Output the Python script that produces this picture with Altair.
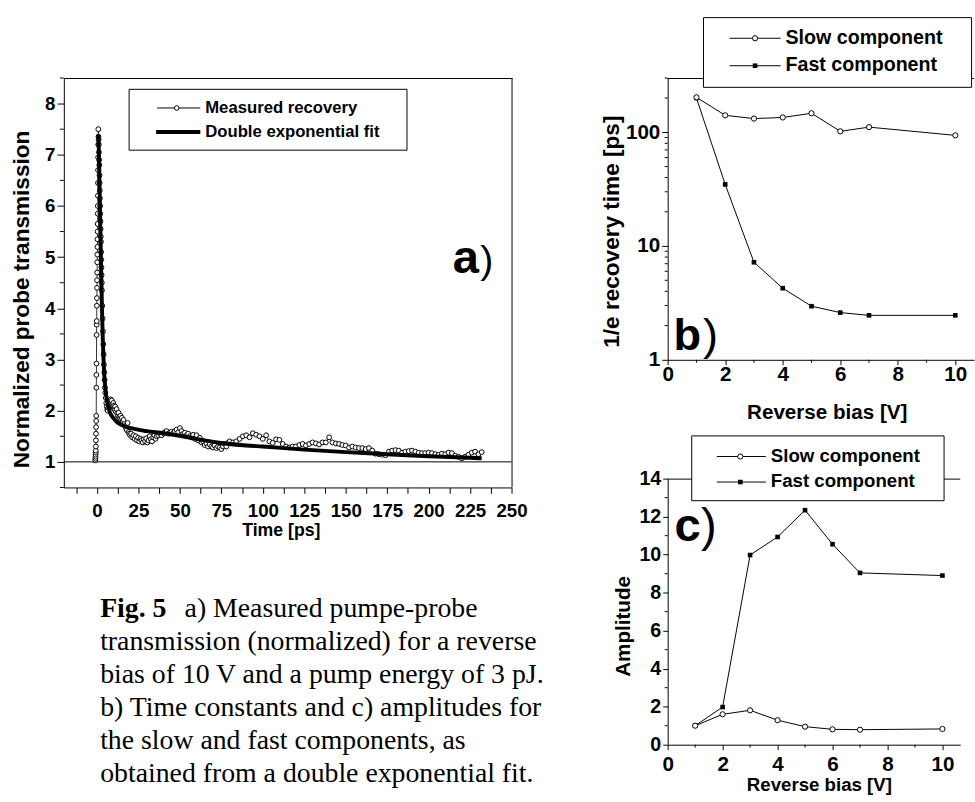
import altair as alt
import pandas as pd

SANS = "Liberation Sans"
SERIF = "Liberation Serif"

# ---------------- panel a: measured recovery (time in ps, normalized transmission)
time_ps = [
    -1.0, -0.95, -0.9, -0.85, -0.8, -0.75, -0.7, -0.65, -0.6, -0.55, -0.5, -0.45, -0.4,
    -0.35, -0.3, -0.25, -0.2, -0.15, -0.1, -0.05, 0.0, 0.05, 0.1, 0.15, 0.2, 0.25, 0.3,
    0.35, 0.4, 0.45, 0.5, 0.55, 0.6, 0.65, 0.7, 0.75, 0.8,
    0.9, 1.0, 1.1, 1.2, 1.3, 1.4, 1.5, 1.6, 1.7, 1.8, 1.9, 2.0, 2.1, 2.2, 2.3, 2.4, 2.5,
    2.6, 2.7, 2.8, 2.9, 3.0,
    3.2, 3.4, 3.6, 3.8, 4.0, 4.2, 4.4, 4.6, 4.8, 5.0,
    5.3, 5.6, 5.9, 6.2, 6.5, 6.8, 7.1, 7.4, 7.7, 8.0, 8.3, 8.6, 8.9, 9.2, 9.5, 9.8, 10.1,
    10.4, 10.7, 11.0,
    11.4, 11.8, 12.2, 12.6, 13.0, 13.4, 13.8, 14.2, 14.6, 15.0,
    15.5, 16.0, 16.5, 17.0, 17.5, 18.0, 18.5, 19.0, 19.5, 20.0,
    20.6, 21.3, 22.0, 22.7, 23.4, 24.1, 24.8, 25.5, 26.2, 26.9, 27.6, 28.3, 29.0, 29.7,
    30.4, 31.1, 31.8, 32.5, 33.2, 33.9, 34.6, 35.3, 36.0,
    37, 38, 39, 40, 41, 42, 43, 44, 45, 46, 47, 48, 49, 50, 51, 52, 53, 54, 55, 56, 57, 58,
    59, 60, 61, 62, 63, 64, 65, 66, 67, 68, 69, 70, 71, 72, 73, 74, 75, 76, 77, 78, 79, 80,
    82, 84, 86, 88, 90, 92, 94, 96, 98, 100, 102, 104, 106, 108, 110, 112, 114, 116, 118,
    120, 122, 124, 126, 128, 130, 132, 134, 136, 138, 140, 142, 144, 146, 148, 150, 152,
    154, 156, 158, 160, 162, 164, 166, 168, 170, 172, 174, 176, 178, 180, 182, 184, 186,
    188, 190, 192, 194, 196, 198, 200, 202, 204, 206, 208, 210, 212, 214, 216, 218, 220,
    222, 224, 226, 228, 230, 232,
]
transmission = [
    1.03, 1.06, 1.10, 1.14, 1.18, 1.22, 1.30, 1.42, 1.55, 1.68, 1.80, 1.90, 2.45,
    2.70, 2.92, 3.48, 3.68, 3.75, 4.05, 4.20, 4.40, 4.55, 4.70, 4.90, 5.05, 5.20, 5.35,
    5.50, 5.65, 5.85, 6.00, 6.20, 6.45, 6.70, 6.95, 7.20, 7.50,
    7.35, 7.30, 7.20, 7.05, 6.90, 6.80, 6.60, 6.45, 6.30, 6.15, 6.00, 5.85, 5.70, 5.55,
    5.40, 5.30, 5.10, 4.95, 4.80, 4.65, 4.50, 4.35,
    4.05, 3.80, 3.55, 3.30, 3.10, 2.90, 2.75, 2.60, 2.45, 2.35,
    2.25, 2.15, 2.08, 2.02, 2.00, 2.06, 2.10, 2.15, 2.20, 2.18, 2.22, 2.15, 2.20, 2.12,
    2.08, 2.15, 2.05, 2.10, 2.02, 2.08,
    1.98, 2.03, 1.95, 1.90, 1.96, 1.88, 1.85, 1.90, 1.82, 1.86,
    1.78, 1.82, 1.74, 1.70, 1.66, 1.62, 1.76, 1.58, 1.55, 1.52,
    1.55, 1.48, 1.52, 1.45, 1.50, 1.42, 1.47, 1.40, 1.45, 1.42, 1.38, 1.44, 1.40, 1.46,
    1.38, 1.42, 1.50, 1.44, 1.40, 1.48, 1.52, 1.45, 1.50,
    1.52, 1.55, 1.52, 1.56, 1.58, 1.60, 1.55, 1.57, 1.59, 1.56, 1.60, 1.63, 1.58, 1.66,
    1.60, 1.55, 1.57, 1.52, 1.55, 1.50, 1.48, 1.53, 1.45, 1.52, 1.42, 1.47, 1.38, 1.40,
    1.33, 1.36, 1.30, 1.34, 1.30, 1.28, 1.32, 1.27, 1.30, 1.28, 1.25, 1.30, 1.35, 1.30,
    1.37, 1.40,
    1.38, 1.40, 1.45, 1.50, 1.52, 1.48, 1.56, 1.53, 1.50, 1.45, 1.52, 1.40, 1.37, 1.44,
    1.43, 1.35, 1.30, 1.28, 1.30, 1.30, 1.33, 1.35, 1.32, 1.35, 1.38, 1.36, 1.34, 1.38,
    1.38, 1.48, 1.38, 1.36, 1.35, 1.33, 1.32, 1.28, 1.30, 1.28, 1.27, 1.27, 1.25, 1.27,
    1.22, 1.16, 1.15, 1.14, 1.13, 1.20, 1.22, 1.23, 1.22, 1.18, 1.20, 1.21, 1.22, 1.20,
    1.18, 1.17, 1.17, 1.18, 1.17, 1.15, 1.14, 1.16, 1.15, 1.18, 1.17, 1.12, 1.10, 1.07,
    1.10, 1.14, 1.18, 1.20, 1.15, 1.19,
]
fit_time_ps = [0.8, 1.2, 1.6, 2.0, 2.5, 3.0, 3.5, 4.0, 4.5, 5.0, 6.0, 7.0, 8.0, 10, 12,
               15, 18, 22, 26, 30, 40, 50, 60, 75, 90, 100, 125, 150, 175, 200, 225, 232]
fit_transmission = [7.4, 7.0, 6.3, 5.6, 4.8, 4.0, 3.4, 2.95, 2.65, 2.45, 2.2, 2.05, 1.95,
                    1.85, 1.78, 1.72, 1.68, 1.65, 1.62, 1.6, 1.56, 1.51, 1.45, 1.37, 1.32,
                    1.3, 1.24, 1.19, 1.15, 1.11, 1.08, 1.07]
baseline_level = [1.0]

# ---------------- panels b and c
bias_v = [1, 2, 3, 4, 5, 6, 7, 10]
tau_slow_ps = [203, 141, 132, 135, 147, 102, 111, 94]
tau_fast_ps = [200, 34.8, 7.2, 4.26, 2.96, 2.6, 2.46, 2.46]
amp_slow = [1.0, 1.6, 1.81, 1.29, 0.95, 0.81, 0.79, 0.83]
amp_fast = [1.0, 1.98, 9.98, 10.93, 12.34, 10.55, 9.04, 8.9]

# ---------------- tick values
a_x_ticks = [-12.5, 0, 12.5, 25, 37.5, 50, 62.5, 75, 87.5, 100, 112.5, 125, 137.5, 150,
             162.5, 175, 187.5, 200, 212.5, 225, 237.5, 250]
a_y_major = [1, 2, 3, 4, 5, 6, 7, 8]
a_y_minor = [0.5, 1.5, 2.5, 3.5, 4.5, 5.5, 6.5, 7.5, 8.5]
bias_major = [0, 2, 4, 6, 8, 10]
bias_minor = [1, 3, 5, 7, 9]
b_y_major = [1, 10, 100]
b_y_minor = [2, 3, 4, 5, 6, 7, 8, 9, 20, 30, 40, 50, 60, 70, 80, 90, 200, 300]
c_y_major = [0, 2, 4, 6, 8, 10, 12, 14]
c_y_minor = [1, 3, 5, 7, 9, 11, 13]

caption_bold = "Fig. 5"
caption_lines = [
    "a) Measured pumpe-probe",
    "transmission (normalized) for a reverse",
    "bias of 10 V and a pump energy of 3 pJ.",
    "b) Time constants and c) amplitudes for",
    "the slow and fast components, as",
    "obtained from a double exponential fit.",
]

one = pd.DataFrame({"k": [0]})

AX = dict(labelFont=SANS, titleFont=SANS, labelFontWeight="bold", titleFontWeight="bold",
          labelColor="black", titleColor="black", domainColor="black", tickColor="black",
          grid=False, labelFlush=False, labelOverlap=False, domainWidth=1, tickWidth=1)
NO_FRAME = alt.ViewBackground(stroke="transparent")


def hrule(x1, x2, y, w=1):
    return alt.Chart(one).mark_rule(color="black", strokeWidth=w).encode(
        x=alt.value(x1), x2=alt.value(x2), y=alt.value(y))


def vrule(x, y1, y2, w=1):
    return alt.Chart(one).mark_rule(color="black", strokeWidth=w).encode(
        x=alt.value(x), y=alt.value(y1), y2=alt.value(y2))


def label(txt, x, y, size, bold=True, font=SANS, align="left", baseline="alphabetic"):
    return alt.Chart(one).mark_text(
        text=txt, font=font, fontSize=size, fontWeight="bold" if bold else "normal",
        color="black", align=align, baseline=baseline).encode(x=alt.value(x), y=alt.value(y))


def box(x1, x2, y1, y2):
    return alt.Chart(one).mark_rect(fill="white", stroke="black", strokeWidth=1).encode(
        x=alt.value(x1), x2=alt.value(x2), y=alt.value(y1), y2=alt.value(y2))


def region(x1, x2, y1, y2):
    # invisible rectangle that fixes the cell each panel occupies in the page
    return alt.Chart(one).mark_rect(opacity=0).encode(
        x=alt.value(x1), x2=alt.value(x2), y=alt.value(y1), y2=alt.value(y2))


def open_circle(x, y, size):
    return alt.Chart(one).mark_point(shape="circle", filled=True, fill="white", stroke="black",
                                     strokeWidth=1, size=size, opacity=1).encode(
        x=alt.value(x), y=alt.value(y))


def filled_square(x, y, size):
    return alt.Chart(one).mark_point(shape="square", filled=True, color="black",
                                     size=size, opacity=1).encode(x=alt.value(x), y=alt.value(y))


# ================= panel a =================
WA, HA = 456, 417
xa = alt.Scale(domain=[-20, 250], nice=False, zero=False)
ya = alt.Scale(domain=[0.5, 8.5], nice=False, zero=False)
meas = pd.DataFrame({"t": time_ps, "v": transmission})
fit = pd.DataFrame({"t": fit_time_ps, "v": fit_transmission})

xa_axis = alt.Axis(values=a_x_ticks,
                   labelExpr="datum.value >= 0 && datum.value % 25 == 0 ? datum.label : ''",
                   title="Time [ps]", labelFontSize=19, titleFontSize=18, tickSize=6,
                   labelPadding=9, titleX=221, titleY=35, **AX)
ya_axis = alt.Axis(values=a_y_major, format="d", title="Normalized probe transmission",
                   labelFontSize=19, titleFontSize=23, tickSize=7, labelPadding=2,
                   titleX=-31, titleY=225, **AX)
XA = dict(scale=xa, axis=xa_axis)
YA = dict(scale=ya, axis=ya_axis)

a_minor = alt.Chart(pd.DataFrame({"v": a_y_minor})).mark_rule(color="black").encode(
    y=alt.Y("v:Q", **YA), x=alt.value(-4), x2=alt.value(0))
a_one = alt.Chart(pd.DataFrame({"v": baseline_level})).mark_rule(color="black", strokeWidth=1).encode(
    y=alt.Y("v:Q", **YA))
a_line = alt.Chart(meas).mark_line(color="black", strokeWidth=0.8).encode(
    x=alt.X("t:Q", **XA), y=alt.Y("v:Q", **YA))
a_pts = alt.Chart(meas).mark_point(shape="circle", filled=True, fill="white", stroke="black",
                                   strokeWidth=1, size=24, opacity=1).encode(
    x=alt.X("t:Q", **XA), y=alt.Y("v:Q", **YA))
a_fit = alt.Chart(fit).mark_line(color="black", strokeWidth=4, interpolate="monotone").encode(
    x=alt.X("t:Q", **XA), y=alt.Y("v:Q", **YA))

a_frame = [hrule(0, WA + 1, 0.5), vrule(WA + 0.5, 0, HA)]
a_legend = [
    box(66.5, 349.5, 11.5, 73.5),
    hrule(95, 139, 30.5, 1),
    open_circle(115, 30.5, 22),
    hrule(94, 139, 55, 4),
    label("Measured recovery", 144, 31, 17, baseline="middle"),
    label("Double exponential fit", 144, 55, 17, baseline="middle"),
]
a_tag = [label("a", 396, 198.5, 48), label(")", 424, 198.5, 40, bold=False)]

CAP = 28.3
caption = [label(caption_bold, 37, 541, CAP, bold=True, font=SERIF, baseline="middle"),
           label(caption_lines[0], 123, 541, CAP, bold=False, font=SERIF, baseline="middle")]
for i, line in enumerate(caption_lines[1:]):
    caption.append(label(line, 37, 541 + 33.5 * (i + 1), CAP, bold=False, font=SERIF,
                         baseline="middle"))

panel_a = alt.layer(region(-64, 516, -67, 735), a_minor, a_one, a_line, a_pts, a_fit,
                    *a_frame, *a_legend, *a_tag, *caption).properties(
    width=WA, height=HA, view=NO_FRAME)

# ================= panel b =================
WB, HB = 312, 287
xb = alt.Scale(domain=[0, 10.65], nice=False, zero=False)
yb = alt.Scale(type="log", domain=[1, 300], nice=False)
b_slow = pd.DataFrame({"bias": bias_v, "tau": tau_slow_ps})
b_fast = pd.DataFrame({"bias": bias_v, "tau": tau_fast_ps})

xb_axis = alt.Axis(values=bias_major, format="d", title="Reverse bias [V]", labelFontSize=21,
                   titleFontSize=21, tickSize=5, labelPadding=-1, titleX=162, titleY=43, **AX)
yb_axis = alt.Axis(values=b_y_major, format="d", title="1/e recovery time [ps]",
                   labelFontSize=21, titleFontSize=23, tickSize=6, labelPadding=2,
                   titleX=-45, titleY=156, **AX)
XB = dict(scale=xb, axis=xb_axis)
YB = dict(scale=yb, axis=yb_axis)

b_xminor = alt.Chart(pd.DataFrame({"bias": bias_minor})).mark_rule(color="black").encode(
    x=alt.X("bias:Q", **XB), y=alt.value(HB), y2=alt.value(HB + 3))
b_yminor = alt.Chart(pd.DataFrame({"tau": b_y_minor})).mark_rule(color="black").encode(
    y=alt.Y("tau:Q", **YB), x=alt.value(-3), x2=alt.value(0))
b_fast_line = alt.Chart(b_fast).mark_line(color="black", strokeWidth=1).encode(
    x=alt.X("bias:Q", **XB), y=alt.Y("tau:Q", **YB))
b_fast_pts = alt.Chart(b_fast).mark_point(shape="square", filled=True, color="black", size=22,
                                          opacity=1).encode(
    x=alt.X("bias:Q", **XB), y=alt.Y("tau:Q", **YB))
b_slow_line = alt.Chart(b_slow).mark_line(color="black", strokeWidth=1).encode(
    x=alt.X("bias:Q", **XB), y=alt.Y("tau:Q", **YB))
b_slow_pts = alt.Chart(b_slow).mark_point(shape="circle", filled=True, fill="white",
                                          stroke="black", strokeWidth=1, size=28, opacity=1).encode(
    x=alt.X("bias:Q", **XB), y=alt.Y("tau:Q", **YB))
b_legend = [
    hrule(0, WB, 0.5),
    box(36.5, 309.5, -61.5, 9.5),
    hrule(63, 115, -40.5), open_circle(89, -40.5, 28),
    hrule(63, 115, -12.5), filled_square(89, -12.5, 22),
    label("Slow component", 120, -41, 20, baseline="middle"),
    label("Fast component", 120, -13, 20, baseline="middle"),
]
b_tag = [label("b", 6, 277, 46), label(")", 36, 277, 46, bold=False)]
panel_b = alt.layer(region(-83, 312, -71, 354), b_xminor, b_yminor, b_fast_line, b_fast_pts,
                    b_slow_line, b_slow_pts, *b_legend, *b_tag).properties(
    width=WB, height=HB, view=NO_FRAME)

# ================= panel c =================
WC, HC = 298, 271
xc = alt.Scale(domain=[0, 10.65], nice=False, zero=False)
yc = alt.Scale(domain=[0, 14], nice=False, zero=False)
c_slow = pd.DataFrame({"bias": bias_v, "amp": amp_slow})
c_fast = pd.DataFrame({"bias": bias_v, "amp": amp_fast})

xc_axis = alt.Axis(values=bias_major, format="d", title="Reverse bias [V]", labelFontSize=21,
                   titleFontSize=19, tickSize=5, labelPadding=4, titleX=154, titleY=32, **AX)
yc_axis = alt.Axis(values=c_y_major, format="d", title="Amplitude", labelFontSize=20,
                   titleFontSize=21, tickSize=5, labelPadding=2, titleX=-35, titleY=150, **AX)
XC = dict(scale=xc, axis=xc_axis)
YC = dict(scale=yc, axis=yc_axis)

c_xminor = alt.Chart(pd.DataFrame({"bias": bias_minor})).mark_rule(color="black").encode(
    x=alt.X("bias:Q", **XC), y=alt.value(HC), y2=alt.value(HC + 3))
c_yminor = alt.Chart(pd.DataFrame({"amp": c_y_minor})).mark_rule(color="black").encode(
    y=alt.Y("amp:Q", **YC), x=alt.value(-3), x2=alt.value(0))
c_fast_line = alt.Chart(c_fast).mark_line(color="black", strokeWidth=1).encode(
    x=alt.X("bias:Q", **XC), y=alt.Y("amp:Q", **YC))
c_fast_pts = alt.Chart(c_fast).mark_point(shape="square", filled=True, color="black", size=22,
                                          opacity=1).encode(
    x=alt.X("bias:Q", **XC), y=alt.Y("amp:Q", **YC))
c_slow_line = alt.Chart(c_slow).mark_line(color="black", strokeWidth=1).encode(
    x=alt.X("bias:Q", **XC), y=alt.Y("amp:Q", **YC))
c_slow_pts = alt.Chart(c_slow).mark_point(shape="circle", filled=True, fill="white",
                                          stroke="black", strokeWidth=1, size=28, opacity=1).encode(
    x=alt.X("bias:Q", **XC), y=alt.Y("amp:Q", **YC))
c_legend = [
    hrule(0, WC, 0.5),
    box(24.5, 281.5, -43.5, 22.5),
    hrule(50, 100, -22.5), open_circle(74, -22.5, 28),
    hrule(50, 100, 3.5), filled_square(74, 3.5, 22),
    label("Slow component", 105, -23, 19, baseline="middle"),
    label("Fast component", 105, 3, 19, baseline="middle"),
]
c_tag = [label("c", 7, 64, 48), label(")", 34, 64, 48, bold=False)]
panel_c = alt.layer(region(-97, 298, -52, 325), c_xminor, c_yminor, c_fast_line, c_fast_pts,
                    c_slow_line, c_slow_pts, *c_legend, *c_tag).properties(
    width=WC, height=HC, view=NO_FRAME)

right = alt.vconcat(panel_b, panel_c, spacing=0)
chart = alt.hconcat(panel_a, right, spacing=0).properties(
    padding={"left": 0, "top": 0, "right": 0, "bottom": 0}, background="white"
)

chart.save("out.html", embed_options={"renderer": "svg", "actions": False})
